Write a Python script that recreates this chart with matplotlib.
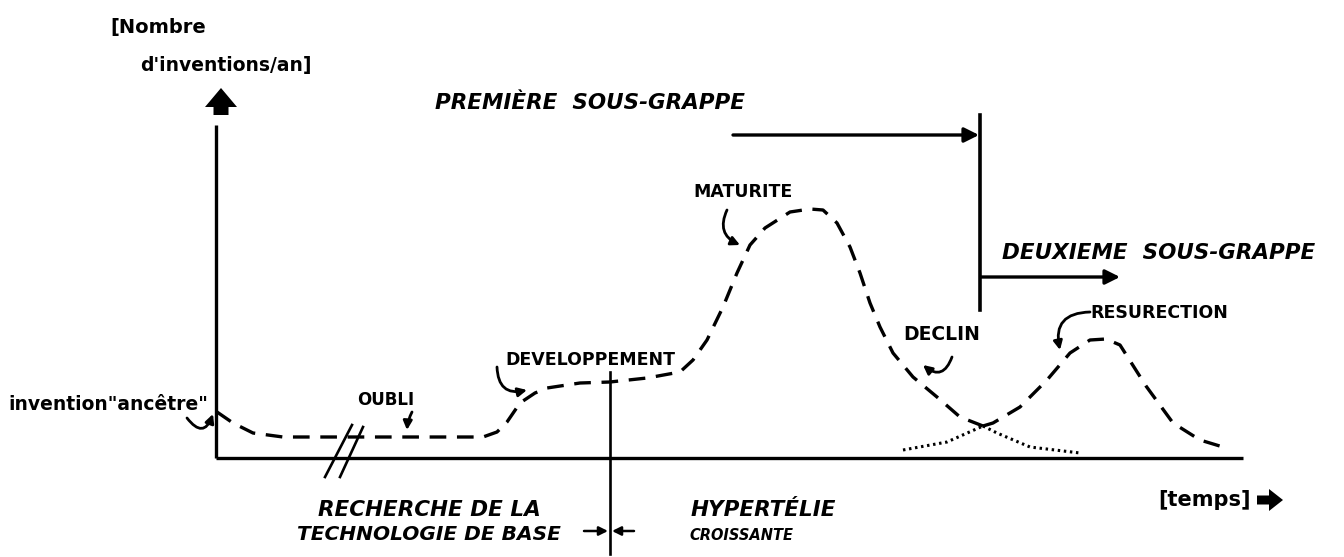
import matplotlib
matplotlib.use("Agg")
import matplotlib.pyplot as plt
from matplotlib.patches import FancyArrow

# ---- data (time units from the axis origin, inventions/year units above the baseline) ----
# first sub-cluster curve (dashed)
main_t = [1, 17, 37, 67, 267, 281, 291, 304, 319, 331, 364, 394, 431, 464, 477, 491,
          507, 521, 534, 549, 574, 594, 607, 621, 634, 644, 654, 664, 677, 697, 721, 744, 767]
main_n = [46, 35, 25, 21, 21, 26, 36, 55, 65, 70, 75, 76, 80, 86, 98, 118,
          151, 185, 213, 230, 246, 249, 248, 235, 211, 185, 155, 131, 105, 81, 61, 41, 32]
# tail of the first curve (dotted)
tail_t = [767, 781, 814, 864]
tail_n = [32, 25, 11, 5]
# second sub-cluster: dotted start, then dashed "resurection"
rise_t = [687, 731, 767]
rise_n = [8, 16, 32]
res_t = [767, 777, 804, 831, 854, 874, 890, 904, 930, 957, 984, 1007]
res_n = [32, 35, 51, 78, 105, 118, 119, 113, 72, 35, 18, 11]

# labels: text, time, level, fontsize, italic
upper_labels = [
    ("PREMIÈRE  SOUS-GRAPPE", 219, 355, 15.5, True),
    ("DEUXIEME  SOUS-GRAPPE", 786, 205, 15.5, True),
    ("MATURITE", 477, 266, 12.5, False),
    ("DEVELOPPEMENT", 289, 98, 12.5, False),
    ("DECLIN", 687, 124, 13.5, False),
    ("RESURECTION", 874, 145, 12.5, False),
    ("RECHERCHE DE LA", 102, -52, 15.5, True),
    ("TECHNOLOGIE DE BASE", 81, -77, 14.5, True),
    ("HYPERTÉLIE", 475, -52, 15.5, True),
    ("CROISSANTE", 473, -78, 10.5, True),
]
plain_labels = [
    ("[Nombre", -106, 431, 14),
    ("d'inventions/an]", -76, 393, 13.5),
    ("invention\"ancêtre\"", -208, 54, 13.5),
    ("[temps]", 942, -42, 15),
    ("OUBLI", 141, 58, 12),
]

fig = plt.figure(figsize=(13.44, 5.57), dpi=100)
ax = fig.add_axes([0, 0, 1, 1])
ax.set_xlim(-216, 1128)
ax.set_ylim(-99, 458)
ax.axis("off")
K = "black"

# axes of the diagram
ax.plot([0, 0], [0, 333], color=K, lw=2.4, solid_capstyle="butt")
ax.plot([0, 1027], [0, 0], color=K, lw=2.4, solid_capstyle="butt")
ax.add_patch(FancyArrow(5, 343, 0, 8, width=15, head_width=32, head_length=19,
                        length_includes_head=False, color=K, lw=0))

# curves
dash = dict(color=K, lw=2.4, dashes=(5, 3.2), dash_capstyle="butt")
ax.plot(main_t, main_n, **dash)
ax.plot(res_t, res_n, **dash)
dot = dict(color=K, lw=2.2, ls=(0, (0.8, 1.2)))
ax.plot(tail_t, tail_n, **dot)
ax.plot(rise_t, rise_n, **dot)

# break mark on the time axis
ax.plot([109, 136], [-19, 33], color=K, lw=1.9)
ax.plot([124, 147], [-19, 31], color=K, lw=1.9)

# separator between research and hypertelia
ax.plot([394, 394], [86, -96], color=K, lw=1.9)
ax.annotate("", xy=(392, -73), xytext=(368, -73),
            arrowprops=dict(arrowstyle="-|>", color=K, lw=1.8, mutation_scale=13,
                            shrinkA=0, shrinkB=0))
ax.annotate("", xy=(396, -73), xytext=(418, -73),
            arrowprops=dict(arrowstyle="-|>", color=K, lw=1.8, mutation_scale=13,
                            shrinkA=0, shrinkB=0))

# sub-cluster separator and arrows
ax.plot([764, 764], [148, 343], color=K, lw=2.6)
ax.annotate("", xy=(763, 323), xytext=(517, 323),
            arrowprops=dict(arrowstyle="-|>", color=K, lw=2.4, mutation_scale=22,
                            shrinkA=0, shrinkB=0))
ax.annotate("", xy=(904, 181), xytext=(765, 181),
            arrowprops=dict(arrowstyle="-|>", color=K, lw=2.4, mutation_scale=22,
                            shrinkA=0, shrinkB=0))

# fat arrow after [temps]
ax.add_patch(FancyArrow(1041, -42, 12, 0, width=9, head_width=22, head_length=14,
                        length_includes_head=False, color=K, lw=0))

# texts
for s, x, y, fs, it in upper_labels:
    ax.text(x, y, s, fontsize=fs, ha="left", va="center", fontfamily="DejaVu Sans",
            fontweight="bold", fontstyle="italic" if it else "normal", color=K)
for s, x, y, fs in plain_labels:
    ax.text(x, y, s, fontsize=fs, ha="left", va="center", fontfamily="DejaVu Sans",
            fontweight="bold", color=K)

# small curved pointer arrows
def pointer(xy, xytext, rad):
    ax.annotate("", xy=xy, xytext=xytext,
                arrowprops=dict(arrowstyle="-|>", color=K, lw=2.0, mutation_scale=13,
                                connectionstyle=f"arc3,rad={rad}", shrinkA=0, shrinkB=0))

pointer((-3, 44), (-29, 40), 0.9)
pointer((191, 28), (196, 46), 0.1)
pointer((311, 68), (281, 91), 0.6)
pointer((524, 213), (511, 248), 0.5)
pointer((707, 93), (736, 101), -0.7)
pointer((844, 108), (874, 146), 0.6)

fig.savefig("out.png", dpi=100)
